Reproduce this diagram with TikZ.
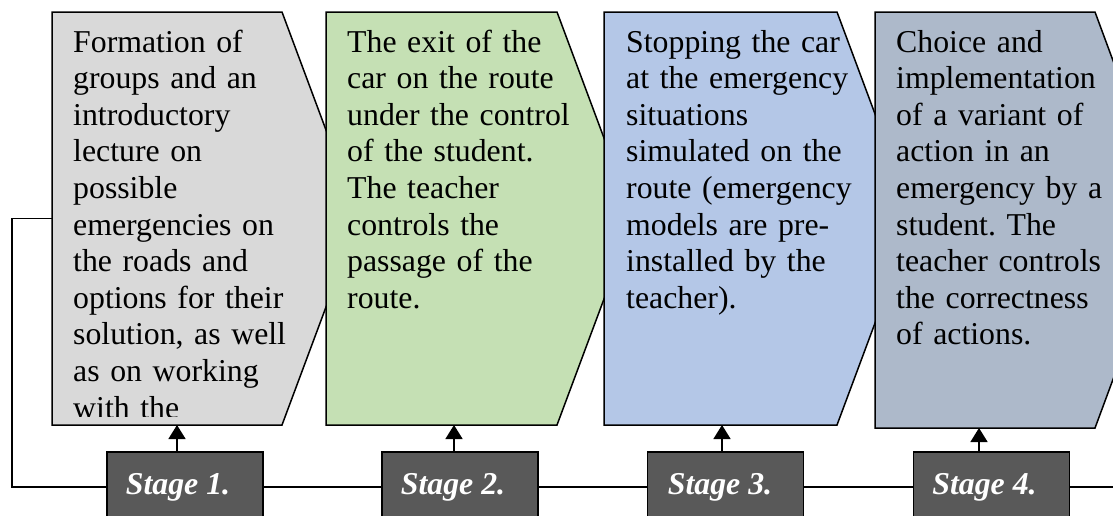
\documentclass[tikz,border=0pt]{standalone}
\usepackage{fontspec}
\setmainfont{Liberation Serif}
\usetikzlibrary{arrows.meta}
\definecolor{boxA}{HTML}{D9D9D9}
\definecolor{boxB}{HTML}{C5E0B4}
\definecolor{boxC}{HTML}{B4C7E7}
\definecolor{boxD}{HTML}{ADB9CA}
\definecolor{stagegrey}{HTML}{595959}
\frenchspacing
\begin{document}
\begin{tikzpicture}[x=1pt,y=-1pt]
\tikzset{
  chev/.style={draw=black, line width=1.5pt, line join=miter},
  bodytext/.style={anchor=base west, inner sep=0pt, text width=260pt, align=left,
    font=\fontsize{31.8}{36.6}\selectfont\frenchspacing},
  stagebox/.style={draw=black, fill=stagegrey, line width=1.5pt, minimum width=156pt,
    minimum height=70pt, inner sep=0pt, text=white,
    font=\fontsize{31.8}{36.6}\selectfont\bfseries\itshape},
  link/.style={draw=black, line width=1.5pt},
  up/.style={draw=black, line width=1.5pt, -{Triangle[width=17pt,length=14pt]}}
}
\clip (0,0) rectangle (1113,515);
\fill[white] (0,0) rectangle (1113,515);

% chevron boxes
\draw[chev, fill=boxA] (52,12) -- (282,12) -- (359,218.5) -- (282,425) -- (52,425) -- cycle;
\draw[chev, fill=boxB] (326,12) -- (557,12) -- (634,218.5) -- (557,425) -- (326,425) -- cycle;
\draw[chev, fill=boxC] (604,12) -- (837,12) -- (914,218.5) -- (837,425) -- (604,425) -- cycle;
\draw[chev, fill=boxD] (875,12) -- (1095,12) -- (1172,220) -- (1095,428) -- (875,428) -- cycle;

\coordinate (b1w) at (52,218.5);
\coordinate (b1s) at (177,425);
\coordinate (b2s) at (454,425);
\coordinate (b3s) at (722,425);
\coordinate (b4s) at (979,428);
\coordinate (loop) at (12,487);
\coordinate (rend) at (1125,487);

% texts
\begin{scope}
\clip (52,12) rectangle (326,416.5);
\node[bodytext] (t1) at (73,52) {Formation of\\groups and an\\introductory\\lecture on\\possible\\emergencies on\\the roads and\\options for their\\solution, as well\\as on working\\with the};
\end{scope}
\node[bodytext] (t2) at (347,52) {The exit of the\\car on the route\\under the control\\of the student.\\The teacher\\controls the\\passage of the\\route.};
\node[bodytext] (t3) at (626,52) {Stopping the car\\at the emergency\\situations\\simulated on the\\route (emergency\\models are pre-\\installed by the\\teacher).};
\node[bodytext] (t4) at (896,52) {Choice and\\implementation\\of a variant of\\action in an\\emergency by a\\student. The\\teacher controls\\the correctness\\of actions.};

% stage boxes
\node[stagebox] (s1) at (185,487) {Stage 1.\kern14pt};
\node[stagebox] (s2) at (460,487) {Stage 2.\kern14pt};
\node[stagebox] (s3) at (725.5,487) {Stage 3.\kern11pt};
\node[stagebox] (s4) at (991.5,487) {Stage 4.\kern14pt};

% connectors
\draw[link] (s1.west) -- (loop) |- (b1w);
\draw[link] (s1.east) -- (s2.west);
\draw[link] (s2.east) -- (s3.west);
\draw[link] (s3.east) -- (s4.west);
\draw[link] (s4.east) -- (rend);

\draw[up] (s1.north -| b1s) -- (b1s);
\draw[up] (s2.north -| b2s) -- (b2s);
\draw[up] (s3.north -| b3s) -- (b3s);
\draw[up] (s4.north -| b4s) -- (b4s);
\end{tikzpicture}
\end{document}
